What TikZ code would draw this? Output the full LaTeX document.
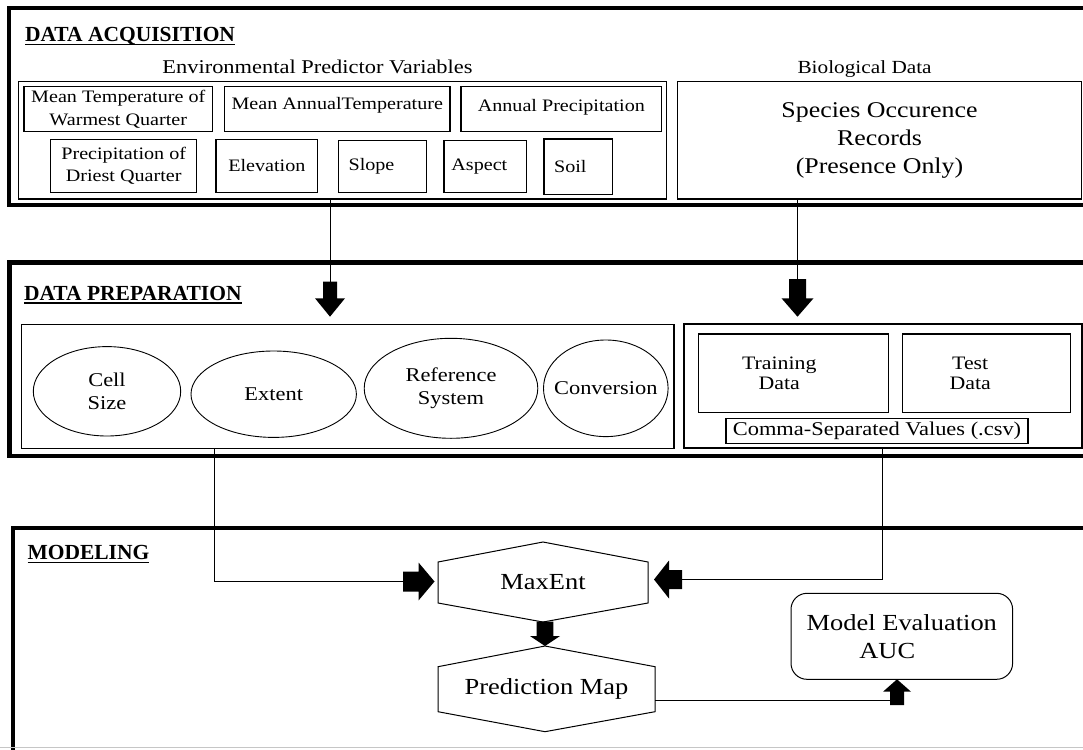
\documentclass[tikz,border=0pt]{standalone}
\usepackage{fontspec}
\setmainfont{Liberation Serif}
\newfontfamily\wf{Liberation Serif}[FakeStretch=1.15]
\usetikzlibrary{shapes.geometric,calc}

\newcommand\fs[2]{\fontsize{#1}{#2}\selectfont}
\newcommand\ulhead[1]{\setbox0\hbox{#1}\rlap{\rule[-3.6pt]{\wd0}{1.5pt}}\box0}
% #1 name of box node, #2 x1, #3 y1, #4 x2, #5 y2, #6 style, #7 text
\newcommand\boxat[7]{\node[#6, anchor=north west, minimum width={#4-#2}, minimum height={#5-#3}] (#1) at (#2,#3) {#7};}
% block arrow: #1 tail coordinate name, #2 tail point, #3 rotation, #4 shaft length, #5 head length, #6 shaft half width, #7 head half width
\newcommand\blkarrow[7]{%
  \coordinate (#1) at #2;
  \fill[shift={#2}, rotate=#3] (0,-#6) -- (#4,-#6) -- (#4,-#7) -- (#4+#5,0) -- (#4,#7) -- (#4,#6) -- (0,#6) -- cycle;
}

\tikzset{
  outerbox/.style={draw, line width=4.5pt, inner sep=0, outer sep=0, anchor=north west},
  frame/.style={draw, line width=1.3pt, inner sep=0, outer sep=0, align=center},
  sbox/.style={draw, line width=1.2pt, inner sep=0, outer sep=0, align=center, font=\wf\fs{17.5}{22}},
  ell/.style={draw, ellipse, line width=0.9pt, inner sep=0, outer sep=0, align=center, font=\wf\fs{19.5}{23.3}},
  conn/.style={line width=1pt},
  hexlbl/.style={inner sep=0, outer sep=0, align=center, font=\wf\fs{23}{28}},
  heading/.style={anchor=base west, inner sep=0, outer sep=0, font=\bfseries\fs{21.5}{26}},
  hexline/.style={line width=1pt, line join=miter},
}

\begin{document}
\begin{tikzpicture}[x=1pt, y=-1pt]
\useasboundingbox (0,0) rectangle (1083,749);
\begin{scope}
\clip (0,0) rectangle (1083,749);

% ---------- outer section frames ----------
\node[outerbox, minimum width=1200, minimum height=197] (acq) at (9,8) {};
\node[outerbox, minimum width=1200, minimum height=193.5] (prep) at (9.5,262.5) {};
\node[outerbox, minimum width=1200, minimum height=300] (model) at (13,528) {};

% ---------- headings ----------
\node[heading] (h1) at (25,41.5) {\ulhead{DATA ACQUISITION}};
\node[heading] (h2) at (24,300) {\ulhead{DATA PREPARATION}};
\node[heading] (h3) at (27.5,559.5) {\ulhead{MODELING}};

% ---------- data acquisition ----------
\node[anchor=base, inner sep=0, font=\wf\fs{19.5}{23}] (envlbl) at (317.5,73.3) {Environmental Predictor Variables};
\node[anchor=base, inner sep=0, font=\wf\fs{18.5}{22}] (biolbl) at (864.6,74) {Biological Data};

\boxat{env}{18.3}{81.7}{666.7}{199}{frame}{}
\boxat{bio}{677.3}{81.7}{1081.7}{199}{frame, font=\wf\fs{22.5}{28.3}}{Species Occurence\\Records\\(Presence Only)}

\boxat{mt}{24}{86.5}{212.5}{131.5}{sbox, font=\wf\fs{17.5}{23.4}}{Mean Temperature of\\Warmest Quarter}
\boxat{mat}{224.5}{86.5}{450}{131.5}{sbox}{\raisebox{0pt}[\height][\dimexpr\depth+8pt\relax]{Mean AnnualTemperature}}
\boxat{ap}{461}{86.5}{661.7}{131.5}{sbox}{\raisebox{0pt}[\height][\dimexpr\depth+3pt\relax]{Annual Precipitation}}
\boxat{pdq}{50.7}{139.3}{196.7}{192.5}{sbox, font=\wf\fs{17.5}{21.7}}{Precipitation of\\Driest Quarter}
\boxat{elev}{216}{139.3}{317.7}{192.5}{sbox}{Elevation}
\boxat{slope}{338.3}{140.5}{426.7}{192.7}{sbox}{Slope\hspace*{22pt}}
\boxat{aspect}{444}{140.7}{526.7}{192.7}{sbox}{Aspect\hspace*{12pt}}
\boxat{soil}{544}{139}{612.7}{194.3}{sbox}{\raisebox{-5pt}{Soil}\hspace*{16pt}}

% ---------- data preparation ----------
\boxat{prepL}{21.3}{324.3}{674}{448.3}{frame}{}
\boxat{prepR}{684}{324}{1082}{448}{frame}{}

\node[ell, minimum width=147.4, minimum height=89.4] (cell) at (107,391.3) {Cell\\Size};
\node[ell, minimum width=165.4, minimum height=86.4] (extent) at (273.7,394.2) {Extent};
\node[ell, minimum width=173.6, minimum height=100] (refsys) at (451,388.3) {Reference\\System};
\node[ell, minimum width=124.6, minimum height=96.6] (conv) at (605.8,388.3) {\makebox[0pt]{Conversion}};

\boxat{train}{698.3}{334}{888.3}{412.7}{sbox, font=\wf\fs{19}{20}}{Training\hspace*{28pt}\\Data\hspace*{28pt}}
\boxat{test}{902.7}{334}{1070.7}{412.7}{sbox, font=\wf\fs{19}{20}}{Test\hspace*{33pt}\\Data\hspace*{33pt}}
\boxat{csv}{726}{418.5}{1028}{443.5}{sbox, font=\wf\fs{19.5}{22}}{Comma-Separated Values (.csv)}

% ---------- modeling ----------
\node[hexlbl, minimum width=210, minimum height=41] (maxent) at (543,582.5) {MaxEnt};
\draw[hexline] (maxent.north west) -- ($(maxent.north)+(0,-20)$) -- (maxent.north east)
  -- (maxent.south east) -- ($(maxent.south)+(0,19)$) -- (maxent.south west) -- cycle;

\node[hexlbl, minimum width=217, minimum height=45] (pm) at (546.5,689.2) {Prediction Map};
\draw[hexline] (pm.north west) -- ($(pm.north)+(-1.5,-20.7)$) -- (pm.north east)
  -- (pm.south east) -- ($(pm.south)+(-1.5,20)$) -- (pm.south west) -- cycle;

\boxat{meval}{791}{593.3}{1012.6}{679.3}{frame, line width=1pt, rounded corners=16pt, font=\wf\fs{23}{28.3}}{Model Evaluation\\AUC\hspace*{29pt}}

% ---------- connectors ----------
\coordinate (c1) at (214.5,581.5);
\coordinate (c2) at (882.5,579.5);
\coordinate (v1) at (330,282);
\coordinate (v2) at (797.5,280);

\draw[conn] (env.south -| v1) -- (v1);
\blkarrow{t1}{(330,281.7)}{-90}{16.6}{18.4}{7}{15}

\draw[conn] (bio.south -| v2) -- (v2);
\blkarrow{t2}{(797.5,279)}{-90}{19.3}{18.4}{8.5}{16}

\blkarrow{t3}{(403,581.5)}{0}{15.5}{16}{10}{19}
\draw[conn] (prepL.south -| c1) |- (t3);

\blkarrow{t4}{(682,579.5)}{180}{13}{15}{9.5}{19}
\draw[conn] (prepR.south -| c2) |- (t4);

\blkarrow{t5}{(545,621.5)}{-90}{14.5}{10}{8.3}{15}

\blkarrow{t6}{(897,705)}{90}{13.3}{12.4}{7}{14}
\draw[conn] ($(pm.east)+(0,10.8)$) -- ($(t6)+(0,-5)$);

\draw[gray!45, line width=1.2pt] (0,747.6) -- (1083,747.6);
\end{scope}
\end{tikzpicture}
\end{document}
